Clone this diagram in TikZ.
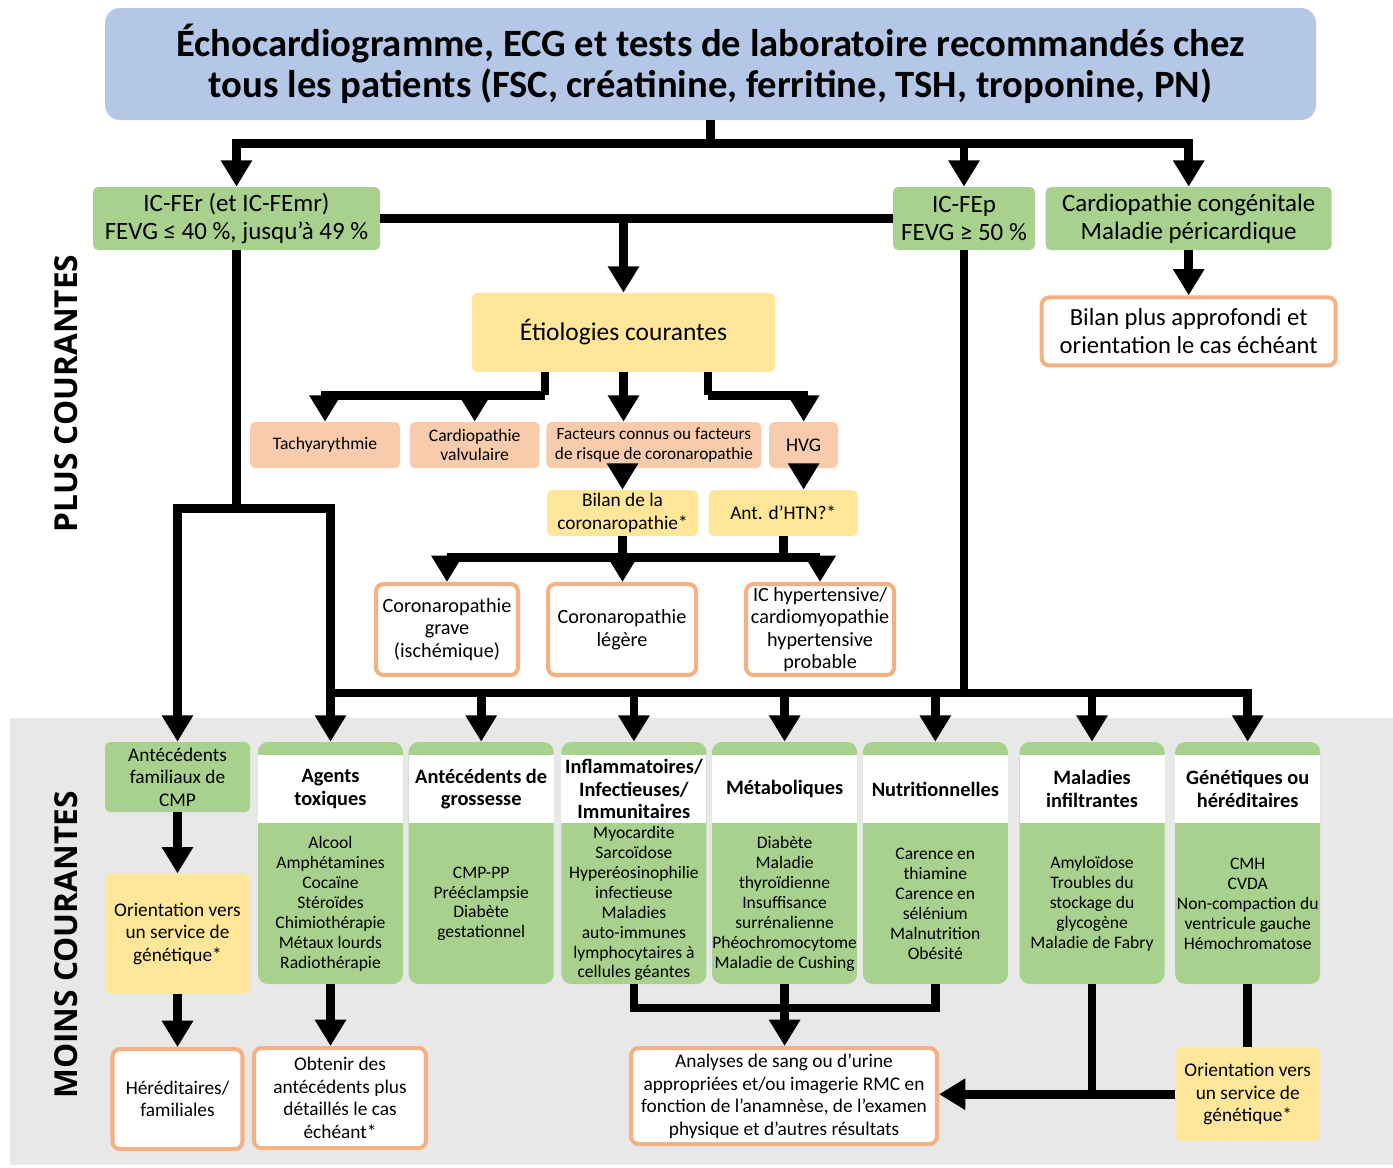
\documentclass[tikz,border=0pt]{standalone}
\usepackage{fontspec}
\setmainfont{Carlito}
\newfontfamily\sidefont{Open Sans}
\usetikzlibrary{arrows.meta,positioning,calc}
\definecolor{titleblue}{HTML}{B4C7E7}
\definecolor{boxgreen}{HTML}{A9D18E}
\definecolor{boxyellow}{HTML}{FFE699}
\definecolor{boxsalmon}{HTML}{F8CBAD}
\definecolor{boxorange}{HTML}{F4B183}
\definecolor{lessgrey}{HTML}{E8E8E8}

\begin{document}
\begin{tikzpicture}[
  every node/.style={inner sep=0pt, align=center},
  line/.style={line width=5pt},
  arr/.style={line width=5pt, -{Triangle[length=15pt,width=17pt]}},
  headbox/.style={fill=titleblue, rounded corners=0.3cm,
    font=\bfseries\fontsize{22}{23.5}\selectfont},
  greenbox/.style={fill=boxgreen, rounded corners=0.1cm, minimum height=1.26cm,
    font=\fontsize{14.2}{15.9}\selectfont},
  yellowbox/.style={fill=boxyellow, rounded corners=0.1cm,
    font=\fontsize{11}{12.8}\selectfont},
  salmonbox/.style={fill=boxsalmon, rounded corners=0.1cm, minimum height=0.92cm,
    font=\fontsize{10}{11.3}\selectfont},
  outbox/.style={draw=boxorange, line width=2.3pt, fill=white, rounded corners=0.15cm,
    font=\fontsize{11}{12.8}\selectfont},
  catbox/.style={fill=boxgreen, rounded corners=0.2cm, minimum width=2.9cm,
    minimum height=4.84cm},
  cathead/.style={fill=white, minimum width=2.9cm, minimum height=1.36cm, anchor=north,
    font=\bfseries\fontsize{11.6}{12.8}\selectfont},
  catbody/.style={font=\fontsize{10}{11.3}\selectfont},
  sidelab/.style={rotate=90, font=\sidefont\bfseries\fontsize{18}{20}\selectfont}]
\useasboundingbox (0,0) rectangle (27.86,-23.34);
\fill[lessgrey] (0.2,-14.36) rectangle (27.86,-23.30);

% top part
\node[headbox, minimum width=24.22cm, minimum height=2.24cm] (title) at (14.21,-1.28)
  {Échocardiogramme, ECG et tests de laboratoire recommandés chez\\
   tous les patients (FSC, créatinine, ferritine, TSH, troponine, PN)};
\node[greenbox, minimum width=5.74cm] (icfer) at (4.73,-4.37)
  {IC-FEr (et IC-FEmr)\\FEVG ≤ 40~\%, jusqu’à 49~\%};
\node[greenbox, minimum width=2.84cm] (icfep) at (19.28,-4.37) {IC-FEp\\FEVG ≥ 50~\%};
\node[greenbox, minimum width=5.72cm, right=0.2cm of icfep] (congen)
  {Cardiopathie congénitale\\Maladie péricardique};
\node[outbox, minimum width=5.88cm, minimum height=1.36cm, below=0.9cm of congen,
  font=\fontsize{14}{15.9}\selectfont] (bilanplus)
  {Bilan plus approfondi et\\orientation le cas échéant};
\node[yellowbox, minimum width=6.06cm, minimum height=1.58cm,
  font=\fontsize{14.5}{15.9}\selectfont] (etio) at (12.47,-6.65) {Étiologies courantes};

% etiologies
\node[salmonbox, minimum width=3.0cm] (tachy) at (6.50,-8.90) {Tachyarythmie};
\node[salmonbox, minimum width=2.6cm, right=0.18cm of tachy] (valv) {Cardiopathie\\valvulaire};
\node[salmonbox, minimum width=4.3cm, right=0.12cm of valv, font=\fontsize{9.8}{11.3}\selectfont]
  (facteurs) {Facteurs connus ou facteurs\\de risque de coronaropathie};
\node[salmonbox, minimum width=1.38cm, right=0.14cm of facteurs,
  font=\fontsize{11}{12.8}\selectfont] (hvg) {HVG};
\node[yellowbox, minimum width=3.02cm, minimum height=0.92cm] (bilancoro) at (12.45,-10.26)
  {Bilan de la\\coronaropathie*};
\node[yellowbox, minimum width=2.98cm, minimum height=0.92cm, right=0.2cm of bilancoro]
  (anthtn) {Ant. d’HTN?*};
\node[outbox, minimum width=2.84cm, minimum height=1.82cm,
  font=\fontsize{11.5}{13}\selectfont] (corograve) at (8.94,-12.59)
  {Coronaropathie\\grave\\(ischémique)};
\node[outbox, minimum width=2.96cm, minimum height=1.82cm, right=0.52cm of corograve,
  font=\fontsize{11.5}{13}\selectfont] (corolegere) {Coronaropathie\\légère};
\node[outbox, minimum width=2.96cm, minimum height=1.82cm, right=0.92cm of corolegere,
  font=\fontsize{11.5}{12.8}\selectfont] (ichta)
  {IC hypertensive/\\cardiomyopathie\\hypertensive\\probable};

\node[sidelab] (pluslab) at (1.32,-7.87) {PLUS COURANTES};
\node[sidelab] (moinslab) at (1.32,-18.9) {MOINS COURANTES};

% less common causes
\node[greenbox, minimum width=2.9cm, minimum height=1.4cm,
  font=\fontsize{11}{12.8}\selectfont] (antfam) at (3.55,-15.54)
  {Antécédents\\familiaux de\\CMP};
\node[yellowbox, minimum width=2.9cm, minimum height=2.4cm, below=1.22cm of antfam]
  (orientl) {Orientation vers\\un service de\\génétique*};
\node[outbox, minimum width=2.6cm, minimum height=2.0cm, below=1.06cm of orientl]
  (hered) {Héréditaires/\\familiales};
\node[outbox, minimum width=3.44cm, minimum height=2.0cm] (obtenir) at (6.80,-21.96)
  {Obtenir des\\antécédents plus\\détaillés le cas\\échéant*};

\node[catbox] (agents) at (6.61,-17.26) {};
\node[cathead] (agentsh) at ([yshift=-0.26cm]agents.north) {Agents\\toxiques};
\node[catbody] (agentsb) at ($(agentsh.south)!0.5!(agents.south)$)
  {Alcool\\Amphétamines\\Cocaïne\\Stéroïdes\\Chimiothérapie\\Métaux lourds\\Radiothérapie};
\node[catbox, right=0.1cm of agents] (gross) {};
\node[cathead] (grossh) at ([yshift=-0.26cm]gross.north) {Antécédents de\\grossesse};
\node[catbody] (grossb) at ($(grossh.south)!0.5!(gross.south)$)
  {CMP-PP\\Prééclampsie\\Diabète\\gestationnel};
\node[catbox, right=0.14cm of gross] (inflam) {};
\node[cathead] (inflamh) at ([yshift=-0.26cm]inflam.north)
  {Inflammatoires/\\Infectieuses/\\Immunitaires};
\node[catbody] (inflamb) at ($(inflamh.south)!0.5!(inflam.south)$)
  {Myocardite\\Sarcoïdose\\Hyperéosinophilie\\infectieuse\\Maladies\\auto-immunes\\
   lymphocytaires à\\cellules géantes};
\node[catbox, right=0.1cm of inflam] (metab) {};
\node[cathead] (metabh) at ([yshift=-0.26cm]metab.north) {Métaboliques};
\node[catbody] (metabb) at ($(metabh.south)!0.5!(metab.south)$)
  {Diabète\\Maladie\\thyroïdienne\\Insuffisance\\surrénalienne\\Phéochromocytome\\
   Maladie de Cushing};
\node[catbox, right=0.1cm of metab] (nutri) {};
\node[cathead] (nutrih) at ([yshift=-0.26cm]nutri.north) {Nutritionnelles};
\node[catbody] (nutrib) at ($(nutrih.south)!0.5!(nutri.south)$)
  {Carence en\\thiamine\\Carence en\\sélénium\\Malnutrition\\Obésité};
\node[catbox, right=0.22cm of nutri] (infil) {};
\node[cathead] (infilh) at ([yshift=-0.26cm]infil.north) {Maladies\\infiltrantes};
\node[catbody] (infilb) at ($(infilh.south)!0.5!(infil.south)$)
  {Amyloïdose\\Troubles du\\stockage du\\glycogène\\Maladie de Fabry};
\node[catbox, right=0.2cm of infil] (genet) {};
\node[cathead] (geneth) at ([yshift=-0.26cm]genet.north) {Génétiques ou\\héréditaires};
\node[catbody] (genetb) at ($(geneth.south)!0.5!(genet.south)$)
  {CMH\\CVDA\\Non-compaction du\\ventricule gauche\\Hémochromatose};

\node[outbox, minimum width=6.12cm, minimum height=1.92cm] (analyses) at (15.68,-21.92)
  {Analyses de sang ou d’urine\\appropriées et/ou imagerie RMC en\\
   fonction de l’anamnèse, de l’examen\\physique et d’autres résultats};
\node[yellowbox, minimum width=2.88cm, minimum height=1.86cm, below=1.26cm of genet]
  (orientr) {Orientation vers\\un service de\\génétique*};

% connectors
\coordinate (split) at ([yshift=-0.46cm]title.south);
\draw[line] (title.south) -- (split);
\draw[arr] (split) -| (icfer.north);
\draw[arr] (split) -| (icfep.north);
\draw[arr] (split) -| (congen.north);
\draw[line] (icfer) -- (icfep);
\draw[arr] (icfer.east -| etio.north) -- (etio.north);
\draw[arr] (congen.south) -- (congen.south |- bilanplus.north);

\coordinate (etiol) at ([xshift=-1.57cm]etio.south);
\coordinate (etior) at ([xshift=1.69cm]etio.south);
\draw[line] (etiol) -- ++(0,-0.46) coordinate (etiolb);
\draw[arr] (etiolb) -| (tachy.north);
\draw[arr] (etiolb) -| (valv.north);
\draw[arr] (etio.south) -- (etio.south |- facteurs.north);
\draw[line] (etior) -- ++(0,-0.46) coordinate (etiorb);
\draw[arr] (etiorb) -| (hvg.north);
\draw[arr] (bilancoro.north |- facteurs.south) -- (bilancoro.north);
\draw[arr] (hvg.south) -- (hvg.south |- anthtn.north);
\draw[line] (bilancoro.south) -- ++(0,-0.42) coordinate (corosplit);
\draw[arr] (corosplit) -| (corograve.north);
\draw[arr] (corosplit) -- (corosplit |- corolegere.north);
\draw[arr] (corosplit) -| (ichta.north);
\draw[line] (anthtn.south) -- (anthtn.south |- corosplit);

\coordinate (leftsplit) at ([yshift=-5.16cm]icfer.south);
\draw[line] (icfer.south) -- (leftsplit);
\draw[arr] (leftsplit) -| (antfam.north);
\draw[arr] (leftsplit) -| (agents.north);
\coordinate (bus) at (agents.north |- 0,-13.86);
\draw[line] (icfep.south) -- (icfep.south |- bus);
\draw[arr] (bus) -| (genet.north);
\draw[arr] (bus -| gross.north) -- (gross.north);
\draw[arr] (bus -| inflam.north) -- (inflam.north);
\draw[arr] (bus -| metab.north) -- (metab.north);
\draw[arr] (bus -| nutri.north) -- (nutri.north);
\draw[arr] (bus -| infil.north) -- (infil.north);

\draw[arr] (antfam) -- (orientl);
\draw[arr] (orientl) -- (hered);
\draw[arr] (agents.south) -- (agents.south |- obtenir.north);
\draw[line] (inflam.south) |- (nutri.south |- 0,-20.16) -- (nutri.south);
\draw[arr] (metab.south) -- (metab.south |- analyses.north);
\draw[line] (infil.south) -- (infil.south |- orientr.west);
\draw[arr] (orientr.west) -- (analyses.east |- orientr.west);
\draw[line] (genet.south) -- (genet.south |- orientr.north);
\end{tikzpicture}
\end{document}
